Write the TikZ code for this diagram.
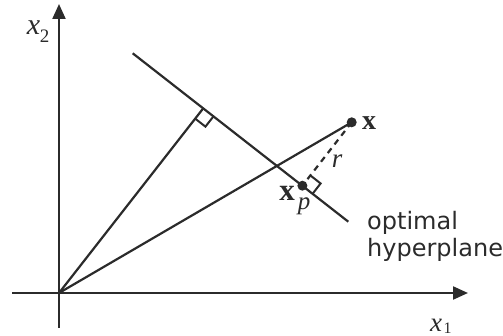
\documentclass[tikz,border=0pt]{standalone}
\usepackage{fontspec}
\setmainfont{Liberation Serif}
\newfontfamily\sansf{DejaVu Sans}
\usetikzlibrary{arrows.meta,calc}
\definecolor{ink}{HTML}{2B2B2B}
\tikzset{
  ln/.style={draw=ink,line width=2.2pt},
  axis/.style={ln,-{Triangle[length=15pt,width=13pt]}},
  dot/.style={circle,fill=ink,inner sep=0pt,minimum size=10pt},
  lbl/.style={inner sep=0pt,text=ink,font=\fontsize{28}{30}\selectfont},
  sans/.style={inner sep=0pt,text=ink,align=left,font=\sansf\fontsize{24}{27}\selectfont},
  rightangle/.style={ln,line width=2pt},
  dsh/.style={ln,dash pattern=on 6pt off 5pt}
}
\begin{document}
\begin{tikzpicture}[x=1pt,y=-1pt]
\useasboundingbox (0,0) rectangle (503,336);
\coordinate (O) at (59,293);
\coordinate (H1) at (12,293);
\coordinate (H2) at (468,293);
\coordinate (V1) at (59,328);
\coordinate (V2) at (59,4);
\coordinate (A) at (132.7,53.3);
\coordinate (B) at (348.3,221.7);
\coordinate (F) at (203.2,108.4);
\node[dot] (X) at (351.7,122.3) {};
\node[dot] (XP) at (302.4,185.7) {};
% axes
\draw[ln] (H1) -- (O);
\draw[axis] (O) -- (H2);
\draw[ln] (V1) -- (O);
\draw[axis] (O) -- (V2);
% hyperplane
\draw[ln] (A) -- (B);
% lines from origin
\draw[ln] (O) -- (F);
\draw[ln] (O) -- (X.center);
% dashed r
\draw[dsh] (X.center) -- (XP.center);
% right angle at F
\coordinate (F1) at ($(F)!13pt!(O)$);
\coordinate (F2) at ($(F)!13pt!(B)$);
\draw[rightangle] (F1) -- ($(F1)+(F2)-(F)$) -- (F2);
% right angle at XP
\coordinate (P1) at ($(XP.center)!13pt!(X.center)$);
\coordinate (P2) at ($(XP.center)!13pt!(B)$);
\draw[rightangle] (P1) -- ($(P1)+(P2)-(XP.center)$) -- (P2);
% labels
\node[lbl] (lx) at (369,123) {\bfseries x};
\node[lbl,font=\fontsize{31}{33}\selectfont] (lxp) at (287,193) {\bfseries x};
\node[lbl,font=\fontsize{25}{27}\selectfont] (lp) at (304,206) {\itshape p};
\node[lbl,font=\fontsize{27}{29}\selectfont] (lr) at (337,161) {\itshape r};
\node[lbl,font=\fontsize{30}{32}\selectfont] (lx2) at (33.5,28) {\itshape x};
\node[lbl,font=\fontsize{19}{20}\selectfont] (lx2s) at (44.5,36) {2};
\node[lbl,font=\fontsize{27}{29}\selectfont,anchor=base] (lx1) at (436,331.5) {\itshape x};
\node[lbl,font=\fontsize{16}{17}\selectfont,anchor=base] (lx1s) at (447.5,333.3) {1};
\node[sans,anchor=west] (opt) at (367,236) {optimal\\hyperplane};
\end{tikzpicture}
\end{document}
